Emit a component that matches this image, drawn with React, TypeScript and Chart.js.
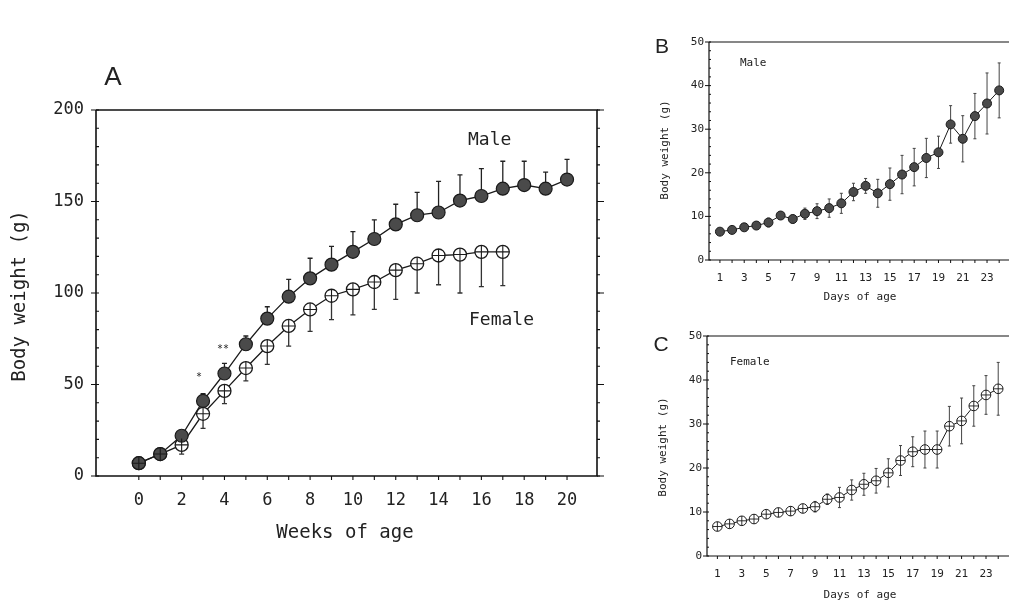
import React, { useEffect, useRef } from "react";
import { Chart, registerables } from "chart.js";
Chart.register(...registerables);

// ---------- Data ----------
const weeks = [0, 1, 2, 3, 4, 5, 6, 7, 8, 9, 10, 11, 12, 13, 14, 15, 16, 17, 18, 19, 20];
const maleWeekMean = [7, 12, 22, 41, 56, 72, 86, 98, 108, 115.5, 122.5, 129.5, 137.5, 142.5, 144, 150.5, 153, 157, 159, 157, 162];
const maleWeekSD = [0, 0, 0, 4, 5.5, 4.5, 6.5, 9.5, 11, 10, 11, 10.5, 11, 12.5, 17, 14, 15, 15, 13, 9, 11];
const femaleWeeks = [0, 1, 2, 3, 4, 5, 6, 7, 8, 9, 10, 11, 12, 13, 14, 15, 16, 17];
const femaleWeekMean = [7, 12, 17, 34, 46.5, 59, 71, 82, 91, 98.5, 102, 106, 112.5, 116, 120.5, 121, 122.5, 122.5];
const femaleWeekSD = [0, 0, 5, 8, 7, 7, 10, 11, 12, 13, 14, 15, 16, 16, 16, 21, 19, 18.5];

const days = [1, 2, 3, 4, 5, 6, 7, 8, 9, 10, 11, 12, 13, 14, 15, 16, 17, 18, 19, 20, 21, 22, 23, 24];
const maleDayMean = [6.5, 6.9, 7.5, 7.9, 8.6, 10.2, 9.4, 10.6, 11.2, 11.9, 13.0, 15.6, 17.0, 15.3, 17.4, 19.6, 21.3, 23.4, 24.7, 31.1, 27.8, 33.0, 35.9, 38.9];
const maleDaySD = [0.3, 0.3, 0.4, 0.5, 1.0, 0.6, 0.9, 1.3, 1.7, 2.1, 2.3, 2.0, 1.7, 3.2, 3.7, 4.4, 4.3, 4.5, 3.7, 4.3, 5.3, 5.2, 7.0, 6.3];
const femaleDayMean = [6.7, 7.3, 8.0, 8.4, 9.5, 9.9, 10.2, 10.8, 11.2, 12.9, 13.3, 15.0, 16.3, 17.1, 18.9, 21.7, 23.7, 24.2, 24.2, 29.5, 30.7, 34.1, 36.6, 38.0];
const femaleDaySD = [0.3, 0.4, 0.4, 0.4, 0.6, 0.6, 1.0, 0.8, 1.2, 1.2, 2.3, 2.3, 2.5, 2.8, 3.2, 3.4, 3.4, 4.2, 4.2, 4.5, 5.2, 4.6, 4.4, 6.0];

const weekTicks = [0, 2, 4, 6, 8, 10, 12, 14, 16, 18, 20];
const weightTicksA = [0, 50, 100, 150, 200];
const dayTicks = [1, 3, 5, 7, 9, 11, 13, 15, 17, 19, 21, 23];
const weightTicksBC = [0, 10, 20, 30, 40, 50];

// ---------- Plugin ----------
const MONO = "'DejaVu Sans Mono'";

const decorPlugin = {
  id: "decor",
  beforeDatasetsDraw(chart: any, _a: any, opts: any) {
    const ctx = chart.ctx;
    const xs = chart.scales.x;
    const ys = chart.scales.y;
    (opts.errors || []).forEach((e: any) => {
      const data = chart.data.datasets[e.ds].data;
      ctx.save();
      ctx.strokeStyle = e.color;
      ctx.lineWidth = e.width;
      data.forEach((p: any, i: number) => {
        const sd = e.sd[i];
        if (!sd) return;
        const px = xs.getPixelForValue(p.x);
        const py = ys.getPixelForValue(p.y);
        const top = e.dir === "down" ? py : ys.getPixelForValue(p.y + sd);
        const bot = e.dir === "up" ? py : ys.getPixelForValue(p.y - sd);
        ctx.beginPath();
        ctx.moveTo(px, top);
        ctx.lineTo(px, bot);
        if (e.dir !== "down") {
          ctx.moveTo(px - e.cap, top);
          ctx.lineTo(px + e.cap, top);
        }
        if (e.dir !== "up") {
          ctx.moveTo(px - e.cap, bot);
          ctx.lineTo(px + e.cap, bot);
        }
        ctx.stroke();
      });
      ctx.restore();
    });
  },
  afterDatasetsDraw(chart: any, _a: any, opts: any) {
    const ctx = chart.ctx;
    (opts.cross || []).forEach((c: any) => {
      const meta = chart.getDatasetMeta(c.ds);
      ctx.save();
      ctx.strokeStyle = c.color;
      ctx.lineWidth = c.width;
      meta.data.forEach((el: any) => {
        ctx.beginPath();
        ctx.moveTo(el.x - c.r, el.y);
        ctx.lineTo(el.x + c.r, el.y);
        ctx.moveTo(el.x, el.y - c.r);
        ctx.lineTo(el.x, el.y + c.r);
        ctx.stroke();
      });
      ctx.restore();
    });
  },
  afterDraw(chart: any, _a: any, opts: any) {
    const ctx = chart.ctx;
    const ca = chart.chartArea;
    const xs = chart.scales.x;
    const ys = chart.scales.y;
    const f = opts.frame;
    ctx.save();
    ctx.strokeStyle = f.color;
    ctx.lineWidth = f.width;
    ctx.beginPath();
    ctx.moveTo(ca.left, ca.top);
    ctx.lineTo(ca.left, ca.bottom);
    ctx.lineTo(ca.right, ca.bottom);
    if (f.right) ctx.lineTo(ca.right, ca.top);
    else ctx.moveTo(ca.right, ca.top);
    if (f.top) ctx.lineTo(ca.left, ca.top);
    ctx.stroke();

    ctx.lineWidth = f.tickWidth;
    (opts.yTicks || []).forEach((t: any) => {
      ctx.beginPath();
      for (let v = ys.min; v <= ys.max + 1e-9; v += t.step) {
        const py = ys.getPixelForValue(v);
        const x0 = t.side === "left" ? ca.left : ca.right;
        const sign = (t.side === "left" ? -1 : 1) * (t.dir === "out" ? 1 : -1);
        ctx.moveTo(x0, py);
        ctx.lineTo(x0 + sign * t.len, py);
      }
      ctx.stroke();
    });
    (opts.xTicks || []).forEach((t: any) => {
      ctx.beginPath();
      for (let v = t.from; v <= t.to + 1e-9; v += t.step) {
        const px = xs.getPixelForValue(v);
        ctx.moveTo(px, ca.bottom);
        ctx.lineTo(px, ca.bottom + (t.dir === "out" ? t.len : -t.len));
      }
      ctx.stroke();
    });

    (opts.texts || []).forEach((t: any) => {
      ctx.save();
      ctx.fillStyle = t.color || "#222";
      ctx.font = t.font;
      ctx.textAlign = t.align || "left";
      ctx.textBaseline = "middle";
      ctx.translate(t.x, t.y);
      if (t.rotate) ctx.rotate(-Math.PI / 2);
      ctx.fillText(t.text, 0, 0);
      ctx.restore();
    });
    ctx.restore();
  },
};

// ---------- Configs ----------
function baseScales(o: any) {
  return {
    x: {
      type: "linear",
      min: o.xMin,
      max: o.xMax,
      grid: { display: false, drawTicks: false },
      border: { display: false },
      afterBuildTicks: (s: any) => {
        s.ticks = o.xTicks.map((v: number) => ({ value: v }));
      },
      afterFit: (s: any) => {
        s.height = o.xH;
      },
      ticks: {
        autoSkip: false,
        maxRotation: 0,
        minRotation: 0,
        padding: o.xPad,
        color: "#222",
        font: { family: o.tickFamily, size: o.tickSize },
      },
    },
    y: {
      type: "linear",
      min: o.yMin,
      max: o.yMax,
      grid: { display: false, drawTicks: false },
      border: { display: false },
      afterBuildTicks: (s: any) => {
        s.ticks = o.yTicks.map((v: number) => ({ value: v }));
      },
      afterFit: (s: any) => {
        s.width = o.yW;
      },
      ticks: {
        autoSkip: false,
        padding: o.yPad,
        color: "#222",
        font: { family: o.tickFamily, size: o.tickSize },
      },
    },
  };
}

function configA() {
  return {
    type: "line",
    data: {
      datasets: [
        {
          label: "Male",
          data: weeks.map((w, i) => ({ x: w, y: maleWeekMean[i] })),
          borderColor: "#1a1a1a",
          borderWidth: 1.3,
          pointRadius: 6.5,
          pointBackgroundColor: "#4a4a4a",
          pointBorderColor: "#1a1a1a",
          pointBorderWidth: 1.2,
          tension: 0,
        },
        {
          label: "Female",
          data: femaleWeeks.map((w, i) => ({ x: w, y: femaleWeekMean[i] })),
          borderColor: "#1a1a1a",
          borderWidth: 1.3,
          pointRadius: 6.5,
          pointBackgroundColor: "#ffffff",
          pointBorderColor: "#1a1a1a",
          pointBorderWidth: 1.3,
          tension: 0,
        },
      ],
    },
    options: {
      animation: false,
      responsive: true,
      maintainAspectRatio: false,
      events: [],
      layout: { padding: { left: 46, top: 110, right: 23, bottom: 85 } },
      plugins: {
        legend: { display: false },
        tooltip: { enabled: false },
        decor: {
          frame: { color: "#111", width: 1.6, tickWidth: 1.1, top: true, right: true },
          yTicks: [
            { step: 10, len: 3, dir: "in", side: "left" },
            { step: 50, len: 5, dir: "out", side: "left" },
            { step: 10, len: 3, dir: "out", side: "right" },
            { step: 50, len: 7, dir: "out", side: "right" },
          ],
          xTicks: [{ from: 0, to: 20, step: 1, len: 4, dir: "out" }],
          errors: [
            { ds: 0, sd: maleWeekSD, dir: "up", cap: 2.5, color: "#222", width: 1.3 },
            { ds: 1, sd: femaleWeekSD, dir: "down", cap: 2.5, color: "#333", width: 1.3 },
          ],
          cross: [{ ds: 1, r: 6.5, color: "#1a1a1a", width: 1.1 }],
          texts: [
            { text: "A", x: 113, y: 78, font: "26px 'Liberation Sans'", align: "center" },
            { text: "Male", x: 468, y: 140, font: `18px ${MONO}` },
            { text: "Female", x: 469, y: 320, font: `18px ${MONO}` },
            { text: "Body weight (g)", x: 20, y: 296, font: `19px ${MONO}`, align: "center", rotate: true },
            { text: "Weeks of age", x: 345, y: 533, font: `19px ${MONO}`, align: "center" },
            { text: "*", x: 199, y: 377, font: `10px ${MONO}`, align: "center" },
            { text: "**", x: 223, y: 349, font: `10px ${MONO}`, align: "center" },
          ],
        },
      },
      scales: baseScales({
        xMin: -2, xMax: 21.4, xTicks: weekTicks, xH: 40, xPad: 14,
        yMin: 0, yMax: 200, yTicks: weightTicksA, yW: 50, yPad: 12,
        tickFamily: "DejaVu Sans Mono", tickSize: 17,
      }),
    },
    plugins: [decorPlugin],
  };
}

function configSmall(which: "B" | "C") {
  const male = which === "B";
  const mean = male ? maleDayMean : femaleDayMean;
  const sd = male ? maleDaySD : femaleDaySD;
  const pad = male
    ? { left: 49, top: 42, right: 0, bottom: 25 }
    : { left: 47, top: 26, right: 0, bottom: 20 };
  const texts = male
    ? [
        { text: "B", x: 32, y: 47, font: "21px 'Liberation Sans'", align: "center" },
        { text: "Male", x: 110, y: 63, font: `11px ${MONO}` },
        { text: "Body weight (g)", x: 35, y: 150, font: `11px ${MONO}`, align: "center", rotate: true },
        { text: "Days of age", x: 230, y: 297, font: `11px ${MONO}`, align: "center" },
      ]
    : [
        { text: "C", x: 31, y: 35, font: "21px 'Liberation Sans'", align: "center" },
        { text: "Female", x: 100, y: 52, font: `11px ${MONO}` },
        { text: "Body weight (g)", x: 33, y: 137, font: `11px ${MONO}`, align: "center", rotate: true },
        { text: "Days of age", x: 230, y: 285, font: `11px ${MONO}`, align: "center" },
      ];
  return {
    type: "line",
    data: {
      datasets: [
        {
          label: male ? "Male" : "Female",
          data: days.map((d, i) => ({ x: d, y: mean[i] })),
          borderColor: "#1a1a1a",
          borderWidth: 1,
          pointRadius: male ? 4.5 : 4.8,
          pointBackgroundColor: male ? "#4a4a4a" : "#ffffff",
          pointBorderColor: "#1a1a1a",
          pointBorderWidth: 1,
          tension: 0,
        },
      ],
    },
    options: {
      animation: false,
      responsive: true,
      maintainAspectRatio: false,
      events: [],
      layout: { padding: pad },
      plugins: {
        legend: { display: false },
        tooltip: { enabled: false },
        decor: {
          frame: { color: "#111", width: 1.2, tickWidth: 1, top: true, right: false },
          yTicks: [
            { step: 10, len: 4, dir: "out", side: "left" },
            { step: 2, len: 2, dir: "in", side: "left" },
          ],
          xTicks: [{ from: 1, to: 24, step: 1, len: 3, dir: "out" }],
          errors: [{ ds: 0, sd, dir: "both", cap: 1.5, color: "#444", width: 1 }],
          cross: male ? [] : [{ ds: 0, r: 4.8, color: "#1a1a1a", width: 0.9 }],
          texts,
        },
      },
      scales: baseScales({
        xMin: male ? 0.1 : 0.15, xMax: male ? 24.85 : 24.9, xTicks: dayTicks, xH: 25, xPad: 12,
        yMin: 0, yMax: 50, yTicks: weightTicksBC, yW: 30, yPad: 5,
        tickFamily: "DejaVu Sans Mono", tickSize: 11,
      }),
    },
    plugins: [decorPlugin],
  };
}

function ChartPanel({ style, build }: { style: React.CSSProperties; build: () => any }) {
  const ref = useRef<HTMLCanvasElement>(null);
  useEffect(() => {
    const chart = new Chart(ref.current as HTMLCanvasElement, build() as any);
    return () => chart.destroy();
  }, []);
  return (
    <div style={{ position: "absolute", ...style }}>
      <canvas ref={ref} />
    </div>
  );
}

export default function App() {
  return (
    <div style={{ position: "absolute", left: 0, top: 0, width: 1009, height: 601, background: "#fff", overflow: "hidden" }}>
      <ChartPanel style={{ left: 0, top: 0, width: 620, height: 601 }} build={configA} />
      <ChartPanel style={{ left: 630, top: 0, width: 385, height: 310 }} build={() => configSmall("B")} />
      <ChartPanel style={{ left: 630, top: 310, width: 385, height: 291 }} build={() => configSmall("C")} />
    </div>
  );
}
